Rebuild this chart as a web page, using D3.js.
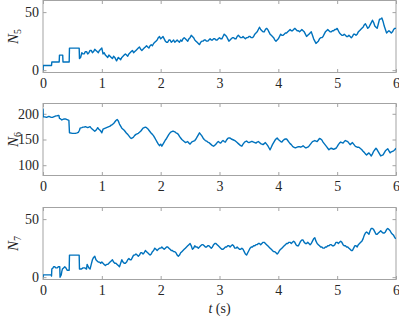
<!DOCTYPE html>
<html>
<head>
<meta charset="utf-8">
<script src="https://cdn.jsdelivr.net/npm/d3@7"></script>
<style>
  body { margin: 0; background: #fff; }
  svg { display: block; }
</style>
</head>
<body>
<div id="chart"></div>
<script>
// time ticks shared by all panels
const xTicks = [0, 1, 2, 3, 4, 5, 6];

// N5 : [t (s), count]
const n5 = [[0,0],[0.005,4],[0.145,4],[0.15,7],[0.275,7],[0.28,13],[0.335,13],[0.34,7],[0.445,7],[0.45,19],[0.615,19],[0.62,10],[0.64,11],[0.66,15],[0.68,14],[0.7,14],[0.72,16],[0.74,16],[0.76,14],[0.78,15],[0.8,17],[0.82,17],[0.84,15],[0.86,16],[0.88,18],[0.9,17],[0.92,16],[0.94,15],[0.96,17],[0.98,18],[1.0,19],[1.02,14],[1.04,15],[1.06,13],[1.08,12],[1.1,11],[1.12,13],[1.14,12],[1.16,11],[1.18,10],[1.2,12],[1.22,11],[1.24,9],[1.25,8],[1.27,10],[1.28,11],[1.3,10],[1.32,9],[1.34,11],[1.36,12],[1.38,13],[1.4,14],[1.42,13],[1.44,12],[1.46,14],[1.48,15],[1.5,16],[1.52,17],[1.54,15],[1.56,16],[1.58,17],[1.6,18],[1.62,19],[1.64,20],[1.66,18],[1.68,17],[1.7,18],[1.72,19],[1.74,20],[1.76,21],[1.78,20],[1.8,19],[1.82,21],[1.84,22],[1.86,21],[1.88,23],[1.9,24],[1.92,25],[1.94,26],[1.96,28],[1.98,29],[2.0,27],[2.02,28],[2.04,29],[2.06,27],[2.08,25],[2.1,24],[2.12,24],[2.14,26],[2.16,26],[2.18,24],[2.2,25],[2.22,26],[2.24,24],[2.26,25],[2.28,26],[2.3,25],[2.32,24],[2.34,26],[2.36,25],[2.38,27],[2.4,28],[2.42,27],[2.44,26],[2.46,25],[2.48,27],[2.5,28],[2.52,30],[2.54,29],[2.56,28],[2.58,26],[2.6,25],[2.62,24],[2.64,23],[2.66,22],[2.68,24],[2.7,25],[2.72,25],[2.74,26],[2.76,26],[2.78,25],[2.8,25],[2.82,26],[2.84,27],[2.86,26],[2.88,26],[2.9,27],[2.92,27],[2.94,26],[2.96,26],[2.98,27],[3.0,28],[3.02,27],[3.04,27],[3.06,29],[3.08,31],[3.1,30],[3.12,29],[3.14,27],[3.16,25],[3.18,26],[3.2,27],[3.22,28],[3.24,28],[3.26,27],[3.28,27],[3.3,29],[3.32,30],[3.34,29],[3.36,28],[3.38,28],[3.4,29],[3.42,28],[3.44,27],[3.46,28],[3.48,28],[3.5,29],[3.52,29],[3.54,28],[3.56,28],[3.58,29],[3.6,31],[3.62,32],[3.64,33],[3.66,35],[3.68,37],[3.7,35],[3.72,34],[3.74,33],[3.76,33],[3.78,35],[3.8,36],[3.82,35],[3.84,33],[3.86,31],[3.88,30],[3.9,29],[3.92,28],[3.94,26],[3.96,25],[3.98,26],[4.0,27],[4.02,29],[4.04,31],[4.06,30],[4.08,30],[4.1,31],[4.12,32],[4.14,32],[4.16,33],[4.18,34],[4.2,35],[4.22,34],[4.24,34],[4.26,35],[4.28,36],[4.3,35],[4.32,34],[4.34,34],[4.36,33],[4.38,34],[4.4,35],[4.42,34],[4.44,33],[4.46,31],[4.48,29],[4.5,30],[4.52,31],[4.54,32],[4.56,33],[4.58,30],[4.6,27],[4.62,25],[4.64,23],[4.66,24],[4.68,25],[4.7,27],[4.72,28],[4.74,28],[4.76,29],[4.78,31],[4.8,33],[4.82,34],[4.84,35],[4.86,34],[4.88,33],[4.9,33],[4.92,34],[4.94,34],[4.96,35],[4.98,35],[5.0,36],[5.02,34],[5.04,32],[5.06,31],[5.08,30],[5.1,30],[5.12,31],[5.14,30],[5.16,29],[5.18,29],[5.2,30],[5.22,29],[5.24,28],[5.26,29],[5.28,31],[5.3,31],[5.32,30],[5.34,31],[5.36,33],[5.38,34],[5.4,35],[5.42,36],[5.44,37],[5.46,39],[5.48,40],[5.5,38],[5.52,36],[5.54,37],[5.56,39],[5.58,41],[5.6,43],[5.62,41],[5.64,38],[5.66,37],[5.68,36],[5.7,40],[5.72,44],[5.74,44],[5.76,45],[5.78,42],[5.8,38],[5.82,35],[5.84,32],[5.86,33],[5.88,34],[5.9,33],[5.92,32],[5.94,33],[5.96,35],[5.98,36],[6.0,36]];

// N6
const n6 = [[0,210],[0.005,194],[0.03,194],[0.06,193],[0.08,194],[0.1,195],[0.12,194],[0.14,193],[0.16,193],[0.18,194],[0.2,195],[0.22,196],[0.24,196],[0.26,197],[0.27,197],[0.28,191],[0.3,190],[0.32,188],[0.34,189],[0.36,190],[0.38,190],[0.4,189],[0.42,188],[0.44,187],[0.45,163],[0.5,162],[0.55,162],[0.58,163],[0.6,164],[0.62,168],[0.63,172],[0.66,173],[0.68,174],[0.7,174],[0.72,175],[0.74,174],[0.76,173],[0.78,174],[0.8,175],[0.82,172],[0.84,170],[0.86,168],[0.88,166],[0.9,168],[0.92,171],[0.93,173],[0.95,170],[0.97,168],[0.99,165],[1.0,163],[1.02,170],[1.04,171],[1.06,172],[1.08,173],[1.1,174],[1.12,175],[1.14,176],[1.16,178],[1.18,179],[1.2,181],[1.22,184],[1.24,187],[1.26,189],[1.28,186],[1.3,180],[1.32,176],[1.34,172],[1.36,170],[1.38,168],[1.4,165],[1.42,162],[1.44,160],[1.46,157],[1.48,154],[1.5,152],[1.52,153],[1.54,155],[1.56,158],[1.58,160],[1.6,161],[1.62,162],[1.64,164],[1.66,166],[1.68,169],[1.7,172],[1.72,173],[1.74,174],[1.76,173],[1.78,171],[1.8,168],[1.82,165],[1.84,162],[1.86,160],[1.88,157],[1.9,153],[1.92,149],[1.94,145],[1.96,141],[1.98,138],[2.0,141],[2.02,137],[2.04,141],[2.06,145],[2.08,149],[2.1,152],[2.12,156],[2.14,160],[2.16,163],[2.18,165],[2.2,166],[2.22,166],[2.24,165],[2.26,163],[2.28,162],[2.3,160],[2.32,156],[2.34,153],[2.36,150],[2.38,148],[2.4,146],[2.42,144],[2.44,145],[2.46,146],[2.48,143],[2.5,141],[2.52,144],[2.54,146],[2.56,147],[2.58,148],[2.6,151],[2.62,155],[2.64,159],[2.66,163],[2.68,160],[2.7,157],[2.72,153],[2.74,150],[2.76,148],[2.78,147],[2.8,145],[2.82,144],[2.84,142],[2.86,140],[2.88,138],[2.9,137],[2.92,139],[2.94,141],[2.96,144],[2.98,146],[3.0,144],[3.02,143],[3.04,146],[3.06,148],[3.08,146],[3.1,145],[3.12,149],[3.14,152],[3.16,153],[3.18,153],[3.2,151],[3.22,150],[3.24,149],[3.26,148],[3.28,146],[3.3,144],[3.32,142],[3.34,140],[3.36,138],[3.38,137],[3.4,141],[3.42,144],[3.44,146],[3.46,147],[3.48,145],[3.5,144],[3.52,145],[3.54,146],[3.56,146],[3.58,145],[3.6,144],[3.62,143],[3.64,145],[3.66,146],[3.68,144],[3.7,142],[3.72,141],[3.74,140],[3.76,142],[3.78,144],[3.8,141],[3.82,138],[3.84,134],[3.86,130],[3.88,135],[3.9,140],[3.92,144],[3.94,148],[3.96,151],[3.98,153],[4.0,150],[4.02,148],[4.04,146],[4.06,145],[4.08,148],[4.1,150],[4.12,151],[4.14,151],[4.16,148],[4.18,145],[4.2,142],[4.22,140],[4.24,137],[4.26,135],[4.28,134],[4.3,134],[4.32,135],[4.34,136],[4.36,136],[4.38,135],[4.4,136],[4.42,138],[4.44,136],[4.46,134],[4.48,134],[4.5,135],[4.52,137],[4.54,140],[4.56,143],[4.58,146],[4.6,147],[4.62,148],[4.64,147],[4.66,146],[4.68,149],[4.7,152],[4.72,151],[4.74,149],[4.76,145],[4.78,142],[4.8,139],[4.82,136],[4.84,133],[4.86,130],[4.88,132],[4.9,133],[4.92,132],[4.94,131],[4.96,132],[4.98,133],[5.0,136],[5.02,140],[5.04,143],[5.06,145],[5.08,144],[5.1,143],[5.12,146],[5.14,148],[5.16,147],[5.18,146],[5.2,143],[5.22,140],[5.24,142],[5.26,144],[5.28,141],[5.3,138],[5.32,136],[5.34,135],[5.36,135],[5.38,134],[5.4,132],[5.42,130],[5.44,127],[5.46,125],[5.48,122],[5.5,120],[5.52,122],[5.54,124],[5.56,121],[5.58,118],[5.6,122],[5.62,127],[5.64,130],[5.66,133],[5.68,130],[5.7,126],[5.72,122],[5.74,118],[5.76,119],[5.78,120],[5.8,124],[5.82,128],[5.84,130],[5.86,132],[5.88,128],[5.9,124],[5.92,126],[5.94,127],[5.96,128],[5.98,130],[6.0,133]];

// N7
const n7 = [[0,0],[0.005,2],[0.14,2],[0.145,1],[0.15,7],[0.17,8],[0.18,9],[0.2,9],[0.22,8],[0.24,8],[0.26,9],[0.285,9],[0.29,0],[0.3,1],[0.31,2],[0.32,5],[0.33,7],[0.35,8],[0.37,9],[0.39,8],[0.41,6],[0.445,6],[0.45,19],[0.615,19],[0.62,7],[0.65,7],[0.68,8],[0.71,8],[0.74,7],[0.75,11],[0.77,9],[0.78,8],[0.8,7],[0.82,11],[0.84,15],[0.86,17],[0.88,18],[0.9,15],[0.92,14],[0.94,13],[0.96,13],[0.98,12],[1.0,13],[1.02,12],[1.04,11],[1.06,10],[1.08,11],[1.1,11],[1.12,12],[1.14,13],[1.16,14],[1.18,15],[1.2,13],[1.22,12],[1.24,12],[1.26,11],[1.28,10],[1.3,9],[1.32,12],[1.34,15],[1.36,13],[1.38,12],[1.4,12],[1.42,13],[1.44,15],[1.46,16],[1.48,15],[1.5,15],[1.52,17],[1.54,19],[1.56,19],[1.58,20],[1.6,19],[1.62,18],[1.64,19],[1.66,21],[1.68,21],[1.7,20],[1.72,21],[1.74,23],[1.76,22],[1.78,21],[1.8,20],[1.82,19],[1.84,20],[1.86,22],[1.88,23],[1.9,25],[1.92,24],[1.94,23],[1.96,24],[1.98,25],[2.0,25],[2.02,26],[2.04,25],[2.06,24],[2.08,25],[2.1,26],[2.12,26],[2.14,25],[2.16,24],[2.18,23],[2.2,23],[2.22,22],[2.24,22],[2.26,21],[2.28,19],[2.3,18],[2.32,19],[2.34,21],[2.36,22],[2.38,23],[2.4,24],[2.42,25],[2.44,26],[2.46,27],[2.48,28],[2.5,29],[2.52,27],[2.54,24],[2.56,25],[2.58,27],[2.6,26],[2.62,26],[2.64,25],[2.66,26],[2.68,27],[2.7,28],[2.72,28],[2.74,27],[2.76,26],[2.78,26],[2.8,27],[2.82,27],[2.84,26],[2.86,25],[2.88,26],[2.9,28],[2.92,29],[2.94,29],[2.96,28],[2.98,27],[3.0,26],[3.02,25],[3.04,24],[3.06,24],[3.08,25],[3.1,26],[3.12,26],[3.14,27],[3.16,27],[3.18,26],[3.2,27],[3.22,28],[3.24,27],[3.26,25],[3.28,25],[3.3,26],[3.32,25],[3.34,24],[3.36,24],[3.38,25],[3.4,24],[3.42,22],[3.44,20],[3.46,19],[3.48,21],[3.5,23],[3.52,25],[3.54,26],[3.56,26],[3.58,27],[3.6,27],[3.62,28],[3.64,28],[3.66,29],[3.68,29],[3.7,28],[3.72,29],[3.74,30],[3.76,30],[3.78,29],[3.8,28],[3.82,27],[3.84,26],[3.86,25],[3.88,24],[3.9,23],[3.92,22],[3.94,22],[3.96,21],[3.98,20],[4.0,21],[4.02,23],[4.04,24],[4.06,25],[4.08,26],[4.1,27],[4.12,28],[4.14,29],[4.16,29],[4.18,30],[4.2,30],[4.22,29],[4.24,30],[4.26,31],[4.28,30],[4.3,28],[4.32,27],[4.34,27],[4.36,29],[4.38,31],[4.4,32],[4.42,32],[4.44,30],[4.46,29],[4.48,29],[4.5,30],[4.52,29],[4.54,28],[4.56,29],[4.58,31],[4.6,33],[4.62,34],[4.64,31],[4.66,29],[4.68,28],[4.7,27],[4.72,26],[4.74,26],[4.76,25],[4.78,25],[4.8,26],[4.82,26],[4.84,27],[4.86,27],[4.88,28],[4.9,28],[4.92,27],[4.94,27],[4.96,28],[4.98,30],[5.0,30],[5.02,29],[5.04,30],[5.06,31],[5.08,30],[5.1,28],[5.12,27],[5.14,27],[5.16,26],[5.18,26],[5.2,25],[5.22,24],[5.24,23],[5.26,23],[5.28,25],[5.3,27],[5.32,27],[5.34,26],[5.36,28],[5.38,29],[5.4,30],[5.42,31],[5.44,33],[5.46,36],[5.48,38],[5.5,39],[5.52,38],[5.54,37],[5.56,40],[5.58,42],[5.6,42],[5.62,41],[5.64,39],[5.66,37],[5.68,37],[5.7,38],[5.72,39],[5.74,40],[5.76,39],[5.78,38],[5.8,38],[5.82,39],[5.84,41],[5.86,42],[5.88,41],[5.9,40],[5.92,38],[5.94,37],[5.96,36],[5.98,34],[6.0,33]];

const panels = [
  { sub: "5", data: n5, domain: [-2, 60], ticks: [0, 50] },
  { sub: "6", data: n6, domain: [80, 220], ticks: [100, 150, 200] },
  { sub: "7", data: n7, domain: [-2, 60], ticks: [0, 50] },
];

const W = 399, H = 318;
const left = 43, right = 396;
const panelTops = [0.5, 103.5, 207.5];
const panelH = 72;
const lineColor = "#0072BD";
const frameColor = "#a3a3a3";
const textColor = "#262626";
const fontName = "'Liberation Serif'";
const tickLen = 3.5;

const svg = d3.select("#chart").append("svg")
  .attr("width", W).attr("height", H);

const x = d3.scaleLinear().domain([0, 6]).range([left, right]);

panels.forEach((p, i) => {
  const top = panelTops[i];
  const bottom = top + panelH;
  const y = d3.scaleLinear().domain(p.domain).range([bottom, top]);

  const g = svg.append("g");

  g.append("clipPath").attr("id", "clip" + i)
    .append("rect")
    .attr("x", left).attr("y", top)
    .attr("width", right - left).attr("height", panelH);

  // bottom axis with labels, ticks inside
  const gx = g.append("g")
    .attr("transform", `translate(0,${bottom})`)
    .call(d3.axisBottom(x).tickValues(xTicks).tickSize(-tickLen).tickPadding(6).tickFormat(d3.format("d")));
  // top mirror ticks
  const gxt = g.append("g")
    .attr("transform", `translate(0,${top})`)
    .call(d3.axisTop(x).tickValues(xTicks).tickSize(-tickLen).tickFormat(""));
  // left axis
  const gy = g.append("g")
    .attr("transform", `translate(${left},0)`)
    .call(d3.axisLeft(y).tickValues(p.ticks).tickSize(-tickLen).tickPadding(4));
  // right mirror ticks
  const gyr = g.append("g")
    .attr("transform", `translate(${right},0)`)
    .call(d3.axisRight(y).tickValues(p.ticks).tickSize(-tickLen).tickFormat(""));

  [gx, gxt, gy, gyr].forEach((a) => {
    a.attr("font-family", null).attr("font-size", null);
    a.select(".domain").remove();
    a.selectAll(".tick line").attr("stroke", frameColor).attr("stroke-width", 1);
    a.selectAll(".tick text")
      .style("font-family", fontName)
      .style("font-size", "14px")
      .attr("fill", textColor);
  });

  // box frame
  g.append("rect")
    .attr("x", left).attr("y", top)
    .attr("width", right - left).attr("height", panelH)
    .attr("fill", "none")
    .attr("stroke", frameColor)
    .attr("stroke-width", 1);

  const line = d3.line()
    .x((d) => x(d[0]))
    .y((d) => y(d[1]));

  g.append("path")
    .datum(p.data)
    .attr("clip-path", `url(#clip${i})`)
    .attr("fill", "none")
    .attr("stroke", lineColor)
    .attr("stroke-width", 1.4)
    .attr("stroke-linejoin", "round")
    .attr("d", line);

  // y label N_k
  const lab = svg.append("text")
    .attr("transform", `translate(18,${top + panelH / 2}) rotate(-90)`)
    .attr("text-anchor", "middle")
    .attr("fill", textColor)
    .style("font-family", fontName)
    .style("font-size", "15px");
  lab.append("tspan").style("font-style", "italic").text("N");
  lab.append("tspan").style("font-size", "10px").attr("dy", 3).text(p.sub);
});

// x label
const xl = svg.append("text")
  .attr("x", (left + right) / 2)
  .attr("y", 313)
  .attr("text-anchor", "middle")
  .attr("fill", textColor)
  .style("font-family", fontName)
  .style("font-size", "14px");
xl.append("tspan").style("font-style", "italic").text("t");
xl.append("tspan").text(" (s)");
</script>
</body>
</html>
